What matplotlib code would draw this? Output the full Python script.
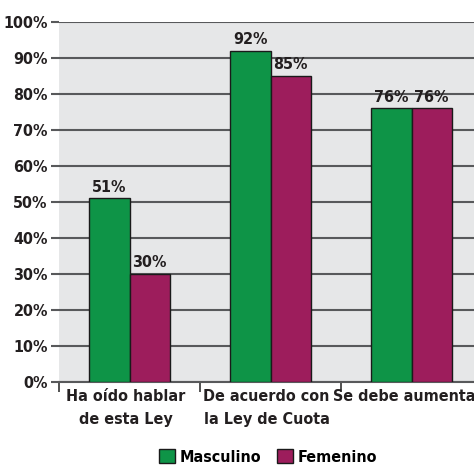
import matplotlib.pyplot as plt
import matplotlib.transforms as mtransforms
import numpy as np

categories = ['Ha oído hablar\nde esta Ley', 'De acuerdo con\nla Ley de Cuota', 'Se debe aumentar']
masculino = [51, 92, 76]
femenino = [30, 85, 76]
yticks = [0, 10, 20, 30, 40, 50, 60, 70, 80, 90, 100]

green = '#0e9447'
magenta = '#9d1d5c'

plt.rcParams['font.family'] = ['DejaVu Sans']
plt.rcParams['font.stretch'] = 'condensed'
plt.rcParams['font.weight'] = 'bold'

fig = plt.figure(figsize=(4.74, 4.65), dpi=100)
# axes run past the right edge, as in the original
ax = fig.add_axes([59 / 474, 83 / 465, 423 / 474, 360 / 465])
ax.set_facecolor('#e6e7e8')

x = np.arange(len(categories))
w = 0.284
b1 = ax.bar(x - w / 2, masculino, w, color=green, edgecolor='#1a1a1a', linewidth=1, label='Masculino', zorder=3)
b2 = ax.bar(x + w / 2, femenino, w, color=magenta, edgecolor='#1a1a1a', linewidth=1, label='Femenino', zorder=3)

for bars, vals in [(b1, masculino), (b2, femenino)]:
    for r, v in zip(bars, vals):
        ax.text(r.get_x() + r.get_width() / 2, v + 1.0, f'{v}%', ha='center', va='bottom',
                fontsize=11.5, fontweight='bold', color='#231f20', zorder=4)

ax.set_xlim(-0.5, 2.5)
ax.set_ylim(0, 100)
ax.set_yticks(yticks)
ax.set_yticklabels([f'{t}%' for t in yticks], fontsize=11.5, fontweight='bold', color='#231f20')
ax.yaxis.grid(True, color='#58595b', linewidth=1.5, zorder=0)
ax.tick_params(axis='y', length=6, width=1.5, color='#58595b', pad=2)

ax.set_xticks([-0.5, 0.5, 1.5])
ax.set_xticklabels([])
ax.tick_params(axis='x', length=7, width=1.2, color='#333333', direction='out')
ax.set_xticks(x, minor=True)
ax.set_xticklabels(categories, minor=True, fontsize=11.5, fontweight='bold', color='#231f20', linespacing=1.65)
ax.tick_params(axis='x', which='minor', length=0, pad=5)
shift = mtransforms.ScaledTranslation(-4 / 100, 0, fig.dpi_scale_trans)
for lbl in ax.get_xticklabels(minor=True):
    lbl.set_transform(lbl.get_transform() + shift)

for s in ['top', 'right', 'left']:
    ax.spines[s].set_visible(False)
ax.spines['bottom'].set_color('#58595b')
ax.spines['bottom'].set_linewidth(1.5)

fig.legend(handles=[b1, b2], loc='center', bbox_to_anchor=(268 / 474, 1 - 457 / 465), ncol=2,
           frameon=False, prop={'size': 11.5, 'weight': 'bold', 'stretch': 'condensed'},
           handlelength=1.0, handleheight=1.0, handletextpad=0.3, columnspacing=1.0)

fig.savefig('out.png', dpi=100)
